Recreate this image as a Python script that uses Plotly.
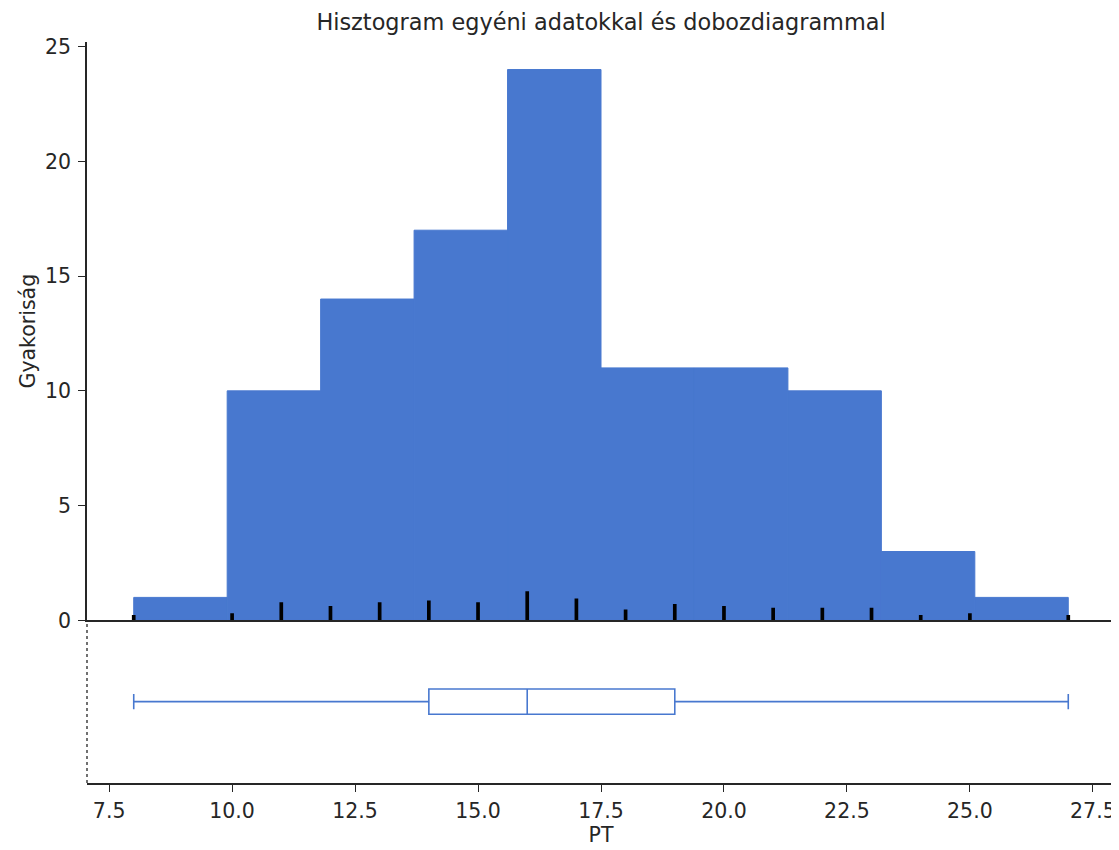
import plotly.graph_objects as go

# ---- data ----
bin_start = 8.0
bin_width = 1.9
hist_counts = [1, 10, 14, 17, 24, 11, 11, 10, 3, 1]

rug_values = [8, 9, 10, 11, 12, 13, 14, 15, 16, 17, 18, 19, 20, 21, 22, 23, 24, 25, 26, 27]
rug_counts = [1, 0, 2, 8, 6, 8, 9, 8, 14, 10, 4, 7, 6, 5, 5, 5, 1, 2, 0, 1]

box_min, box_q1, box_median, box_q3, box_max = 8, 14, 16, 19, 27

x_ticks = [7.5, 10.0, 12.5, 15.0, 17.5, 20.0, 22.5, 25.0, 27.5]
y_ticks = [0, 5, 10, 15, 20, 25]

title = "Hisztogram egyéni adatokkal és dobozdiagrammal"
x_label = "PT"
y_label = "Gyakoriság"

# ---- styling ----
BLUE = "#4878cf"
INK = "#262626"
FONT = "DejaVu Sans"
FS = 20.5

bin_centers = [bin_start + bin_width * (i + 0.5) for i in range(len(hist_counts))]

rug_x = [v for v, c in zip(rug_values, rug_counts) if c > 0]
rug_h = [0.08 * c + 0.15 for c in rug_counts if c > 0]

fig = go.Figure()

fig.add_trace(go.Bar(
    x=bin_centers, y=hist_counts, width=bin_width,
    marker=dict(color=BLUE, line=dict(width=1, color=BLUE)),
    xaxis="x", yaxis="y", showlegend=False, hoverinfo="skip",
))

fig.add_trace(go.Bar(
    x=rug_x, y=rug_h, width=0.075,
    marker=dict(color="black", line=dict(width=0)),
    xaxis="x", yaxis="y", showlegend=False, hoverinfo="skip",
))

fig.add_trace(go.Box(
    y=[0], q1=[box_q1], median=[box_median], q3=[box_q3],
    lowerfence=[box_min], upperfence=[box_max],
    orientation="h", width=0.31, whiskerwidth=0.6,
    fillcolor="white", line=dict(color=BLUE, width=1.6),
    xaxis="x2", yaxis="y2", showlegend=False, hoverinfo="skip",
))

split = 0.2195
xr = [7.05, 27.95]

# the page body has an 8px margin, so the figure is sized to fit the window
fig.update_layout(
    width=1111, height=842,
    margin=dict(l=79, r=4, t=34, b=67, autoexpand=False),
    paper_bgcolor="white", plot_bgcolor="white",
    barmode="overlay",
    font=dict(family=FONT, size=FS, color=INK),
    title=dict(text=title, x=0.5338, xanchor="center", y=0.9834, yanchor="middle",
               font=dict(family=FONT, size=22.4, color=INK), automargin=False),
    xaxis=dict(domain=[0, 1], range=xr, anchor="y", showline=True, linecolor=INK,
               linewidth=1.5, showgrid=False, zeroline=False, ticks="",
               showticklabels=False, automargin=False),
    yaxis=dict(domain=[split, 1], range=[0, 25.2], showline=True, linecolor=INK,
               linewidth=1.5, showgrid=False, zeroline=False, ticks="outside",
               ticklen=7, tickwidth=1.3, tickcolor=INK, tickvals=y_ticks,
               ticklabelstandoff=3, automargin=False,
               title=dict(text=y_label, standoff=4, font=dict(size=FS))),
    xaxis2=dict(domain=[0, 1], range=xr, anchor="y2", showline=True, linecolor=INK,
                linewidth=1.5, showgrid=False, zeroline=False, ticks="outside",
                ticklen=7, tickwidth=1.3, tickcolor=INK, tickvals=x_ticks,
                tickformat=".1f", ticklabelstandoff=2, automargin=False,
                title=dict(text=x_label, standoff=2, font=dict(size=FS))),
    yaxis2=dict(domain=[0, split], range=[-1, 1], showline=False, showgrid=False,
                zeroline=False, showticklabels=False, ticks="", automargin=False),
    shapes=[dict(type="line", xref="x2 domain", yref="y2 domain",
                 x0=0, x1=0, y0=0, y1=1,
                 line=dict(color=INK, width=1.3, dash="dot"))],
)

fig.write_html("out.html")
